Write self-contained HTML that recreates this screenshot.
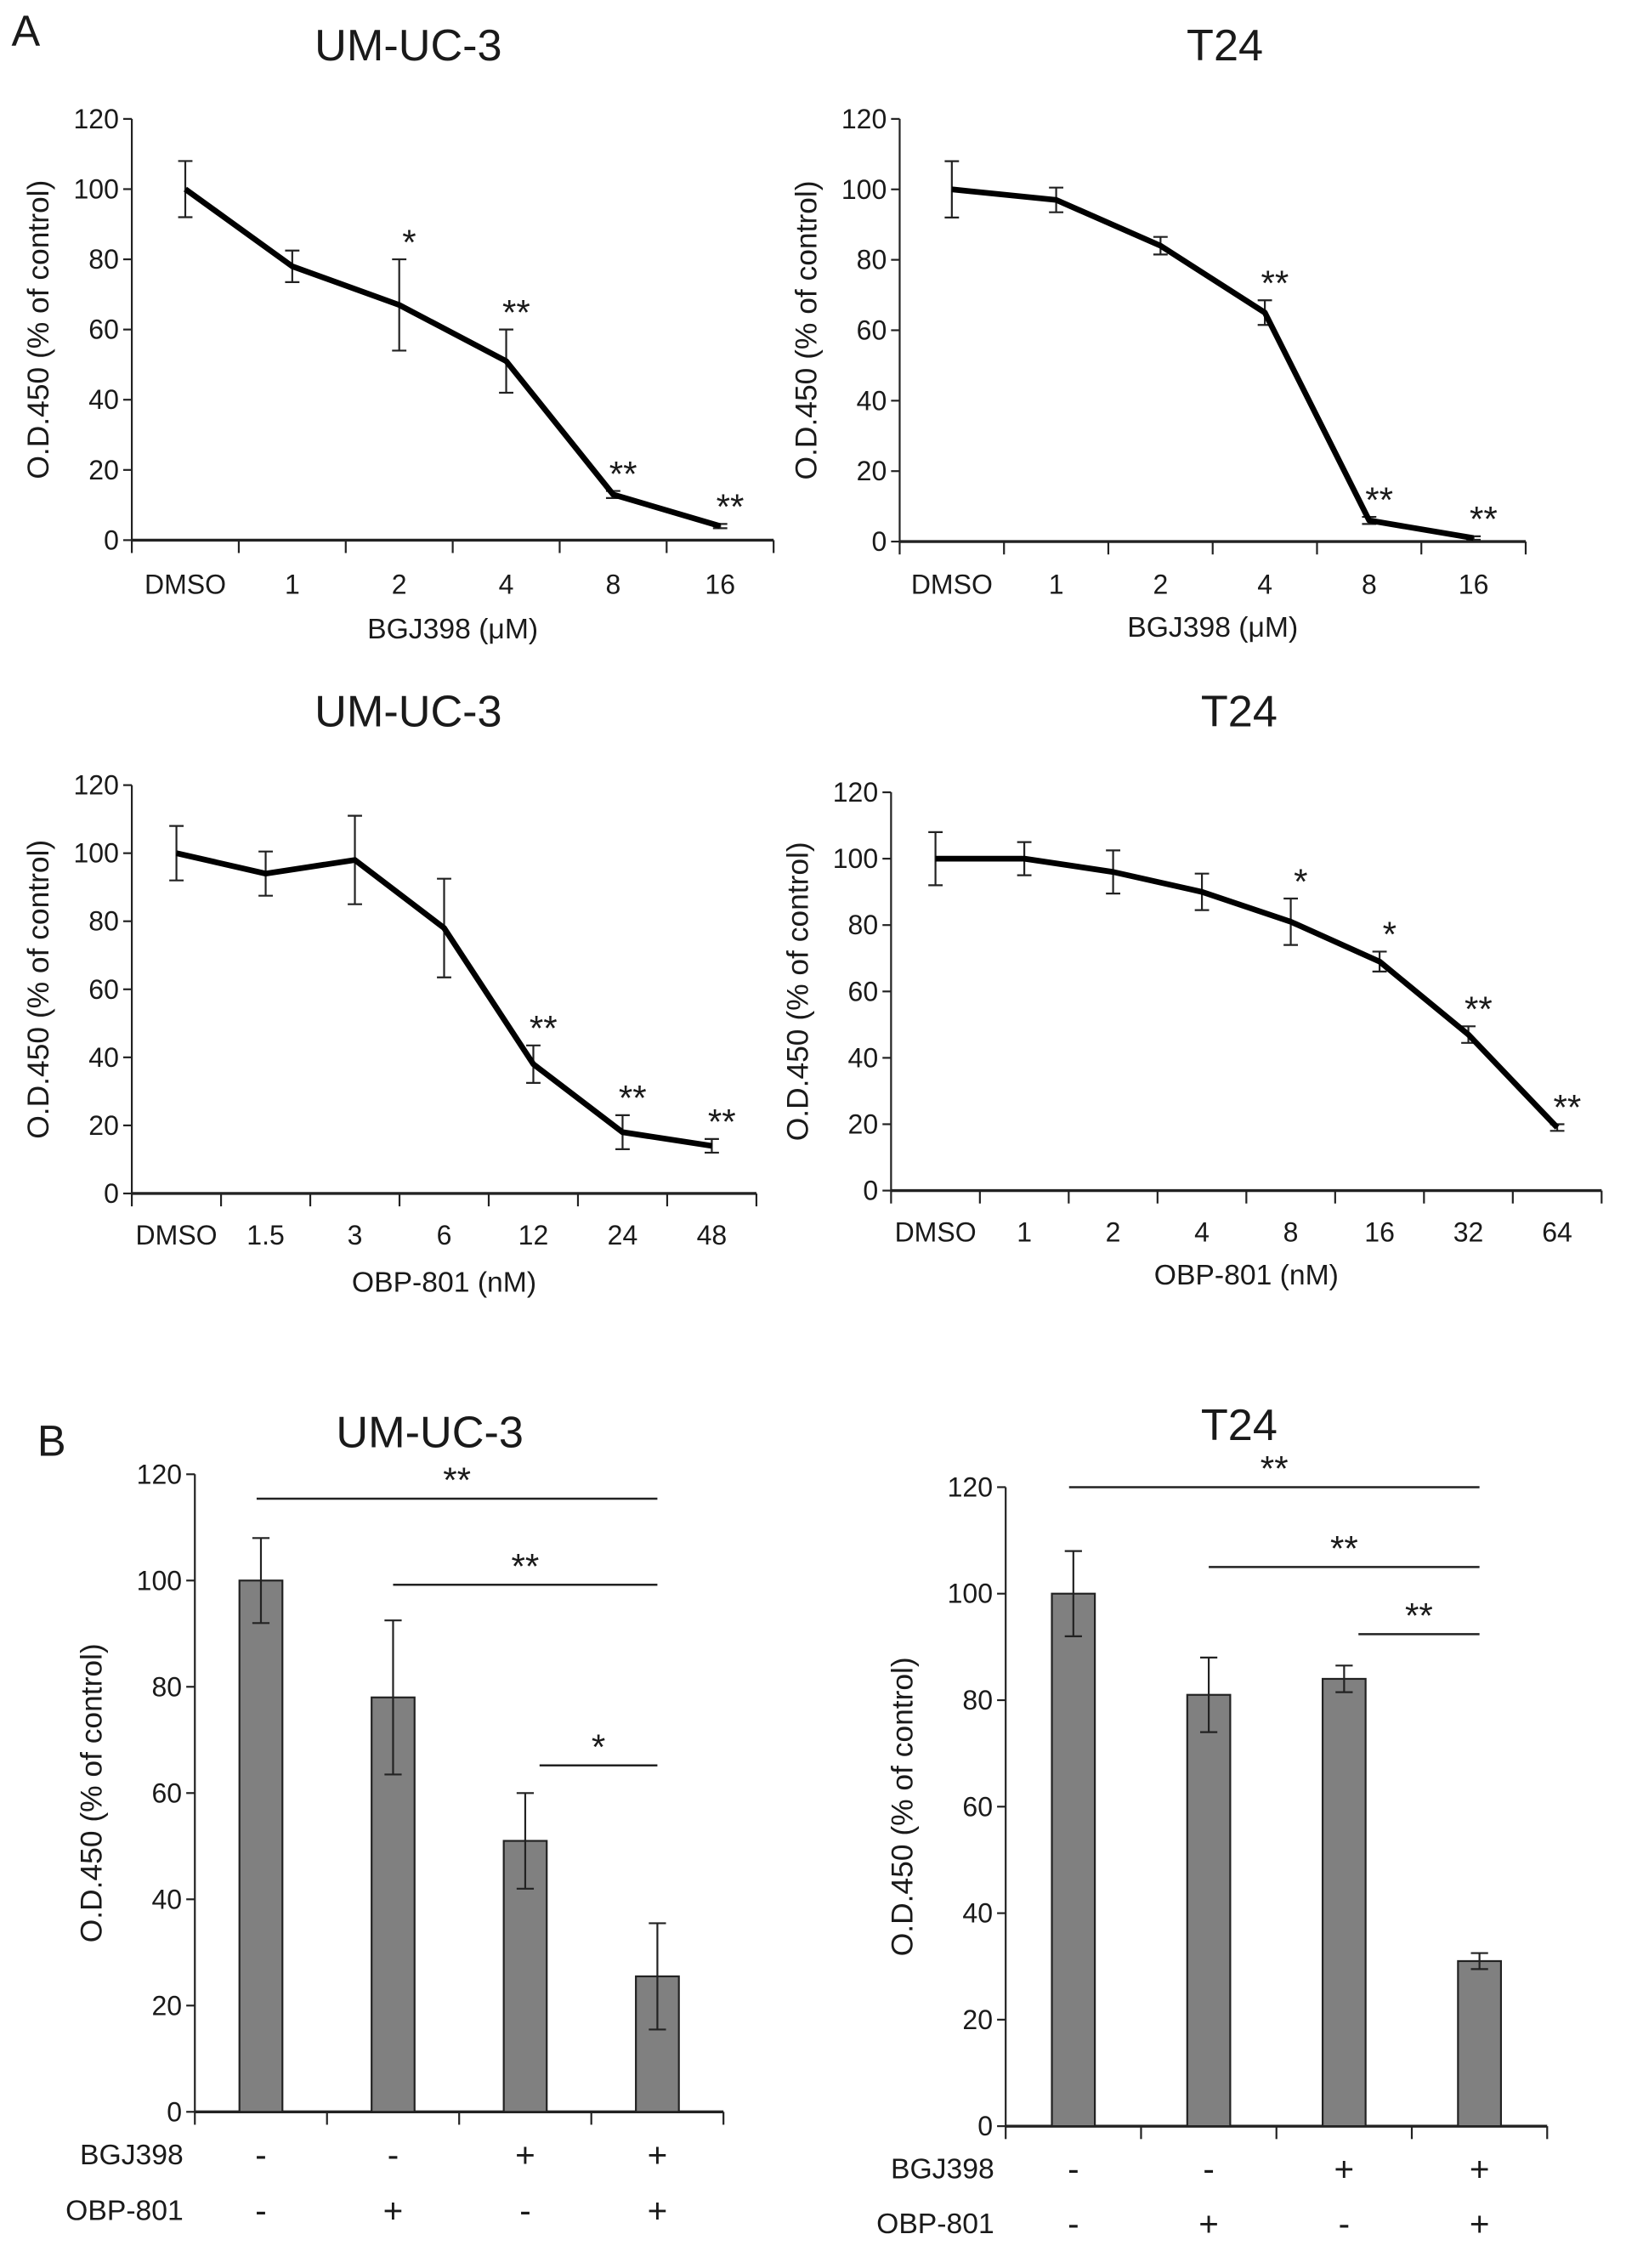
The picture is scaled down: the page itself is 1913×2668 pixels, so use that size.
<!DOCTYPE html>
<html><head><meta charset="utf-8"><style>
html,body{margin:0;padding:0;background:#fff}
svg{display:block}
text{font-family:"Liberation Sans",sans-serif;fill:#1a1a1a}
</style></head><body>
<svg id="fig" xmlns="http://www.w3.org/2000/svg" width="1913" height="2668" viewBox="0 0 1135 1583">
<text x="8" y="32" font-size="30">A</text>
<text x="26" y="1016" font-size="30">B</text>
</svg>
<script>
// ---- data ----
const c1Cats = ["DMSO","1","2","4","8","16"];
const c1Vals = [100,78,67,51,13,4];
const c1Errs = [8,4.5,13,9,1,0.6];
const c1Stars = ["","","*","**","**","**"];
const c2Cats = ["DMSO","1","2","4","8","16"];
const c2Vals = [100,97,84,65,6,1];
const c2Errs = [8,3.5,2.5,3.5,1,0.5];
const c2Stars = ["","","","**","**","**"];
const c3Cats = ["DMSO","1.5","3","6","12","24","48"];
const c3Vals = [100,94,98,78,38,18,14];
const c3Errs = [8,6.5,13,14.5,5.5,5,2];
const c3Stars = ["","","","","**","**","**"];
const c4Cats = ["DMSO","1","2","4","8","16","32","64"];
const c4Vals = [100,100,96,90,81,69,47,19];
const c4Errs = [8,5,6.5,5.5,7,3,2.5,1];
const c4Stars = ["","","","","*","*","**","**"];
const yTicks = [0,20,40,60,80,100,120];
const b1Vals = [100,78,51,25.5];
const b1Errs = [8,14.5,9,10];
const b2Vals = [100,81,84,31];
const b2Errs = [8,7,2.5,1.5];
const bgjRow = ["-","-","+","+"];
const obpRow = ["-","+","-","+"];
const b1Sig = [[0,3,"**"],[1,3,"**"],[2,3,"*"]];
const b1SigY = [115.4,99.2,65.2];
const b2Sig = [[0,3,"**"],[1,3,"**"],[2,3,"**"]];
const b2SigY = [120,105,92.4];

const svg = document.getElementById('fig');
const NS = "http://www.w3.org/2000/svg";
function el(tag, attrs, parent){
  const e = document.createElementNS(NS, tag);
  for (const k in attrs) e.setAttribute(k, attrs[k]);
  (parent||svg).appendChild(e);
  return e;
}
function txt(x,y,s,size,anchor,parent){
  const t = el('text',{x:x,y:y,'font-size':size,'text-anchor':anchor||'middle','dominant-baseline':'central'},parent);
  t.textContent = s; return t;
}

function axes(g, x0, x1, y0, y1, n, yTitleX, name){
  const ys = v => y0 + (y1 - y0) * v / 120;
  const yl = el('line',{x1:x0,y1:y0,x2:x0,y2:y1,stroke:'#222','stroke-width':1.3},g);
  
  
  yTicks.forEach(v=>{
    el('line',{x1:x0-6,y1:ys(v),x2:x0,y2:ys(v),stroke:'#222','stroke-width':1.3},g);
    const t = txt(x0-9, ys(v), String(v), 19, 'end', g);
    
    
  });
  const xl = el('line',{x1:x0,y1:y0,x2:x1,y2:y0,stroke:'#222','stroke-width':2},g);
  
  
  const w = (x1-x0)/n;
  for(let i=0;i<=n;i++) el('line',{x1:x0+i*w,y1:y0,x2:x0+i*w,y2:y0+9,stroke:'#222','stroke-width':1.3},g);
  const yt = el('text',{x:0,y:0,'font-size':21,'text-anchor':'middle','dominant-baseline':'central',transform:`translate(${yTitleX},${(y0+y1)/2}) rotate(-90)`},g);
  yt.textContent = 'O.D.450 (% of control)';
  
  
  return {ys:ys, xs:i=>x0+(i+0.5)*w, w:w};
}

function lineChart(name, title, titleX, titleY, cats, vals, errs, stars, x0, x1, y0, y1, xTitle, labY, titleXY){
  const g = el('g',{});
  
  
  const tt = txt(titleX, titleY, title, 31, 'middle', g);
  
  
  const a = axes(g, x0, x1, y0, y1, cats.length, x0-65, name);
  cats.forEach((c,i)=>{
    const t = txt(a.xs(i), labY, c, 19, 'middle', g);
    
    
  });
  const xt = txt((x0+x1)/2, titleXY, xTitle, 20, 'middle', g);
  
  
  vals.forEach((v,i)=>{
    const x=a.xs(i), hi=a.ys(v+errs[i]), lo=a.ys(v-errs[i]);
    const eb = el('path',{d:`M${x},${hi}V${lo}M${x-5},${hi}H${x+5}M${x-5},${lo}H${x+5}`,stroke:'#222','stroke-width':1.3,fill:'none'},g);
    
    
    if (stars[i]) {
      const s = txt(x+7, a.ys(v+errs[i]) - 12, stars[i], 25, 'middle', g);
      
      
    }
  });
  const d = vals.map((v,i)=>(i?'L':'M')+a.xs(i)+','+a.ys(v)).join('');
  const p = el('path',{d:d,stroke:'#000','stroke-width':4,fill:'none','stroke-linejoin':'round'},g);
  
  
}

function barChart(name, title, titleX, titleY, vals, errs, sig, sigY, x0, x1, y0, y1, rowY1, rowY2){
  const g = el('g',{});
  
  
  const tt = txt(titleX, titleY, title, 31, 'middle', g);
  
  
  const a = axes(g, x0, x1, y0, y1, vals.length, x0-72, name);
  vals.forEach((v,i)=>{
    const x=a.xs(i), bw=30;
    const r = el('rect',{x:x-bw/2,y:a.ys(v),width:bw,height:y0-a.ys(v),fill:'#808080',stroke:'#222','stroke-width':1.3},g);
    
    
    const hi=a.ys(v+errs[i]), lo=a.ys(v-errs[i]);
    const eb = el('path',{d:`M${x},${hi}V${lo}M${x-6},${hi}H${x+6}M${x-6},${lo}H${x+6}`,stroke:'#222','stroke-width':1.3,fill:'none'},g);
    
    
    const s1 = txt(x, rowY1, bgjRow[i], 24, 'middle', g);
    
    
    const s2 = txt(x, rowY2, obpRow[i], 24, 'middle', g);
    
    
  });
  const l1 = txt(x0-8, rowY1, 'BGJ398', 20, 'end', g);
  
  
  const l2 = txt(x0-8, rowY2, 'OBP-801', 20, 'end', g);
  
  
  sig.forEach((s,k)=>{
    const xa = k===0 ? a.xs(s[0])-3 : (k===2 ? a.xs(s[0])+10 : a.xs(s[0]));
    const xb = a.xs(s[1]);
    const y = a.ys(sigY[k]);
    const ln = el('line',{x1:xa,y1:y,x2:xb,y2:y,stroke:'#222','stroke-width':1.5},g);
    
    
    const st = txt((xa+xb)/2, y-13, s[2], 25, 'middle', g);
    
    
  });
}

lineChart('umuc3-bgj398-chart','UM-UC-3',285,32,c1Cats,c1Vals,c1Errs,c1Stars,92,540,377,83,'BGJ398 (μM)',408,439);
lineChart('t24-bgj398-chart','T24',855,32,c2Cats,c2Vals,c2Errs,c2Stars,628,1065,378,83,'BGJ398 (μM)',408,438);
lineChart('umuc3-obp801-chart','UM-UC-3',285,497,c3Cats,c3Vals,c3Errs,c3Stars,92,528,833,548,'OBP-801 (nM)',862,895);
lineChart('t24-obp801-chart','T24',865,497,c4Cats,c4Vals,c4Errs,c4Stars,622,1118,831,553,'OBP-801 (nM)',860,890);
barChart('umuc3-combo-bar-chart','UM-UC-3',300,1000,b1Vals,b1Errs,b1Sig,b1SigY,136,505,1474,1029,1504,1543);
barChart('t24-combo-bar-chart','T24',865,995,b2Vals,b2Errs,b2Sig,b2SigY,702,1080,1484,1038,1514,1552);
</script>
</body></html>
